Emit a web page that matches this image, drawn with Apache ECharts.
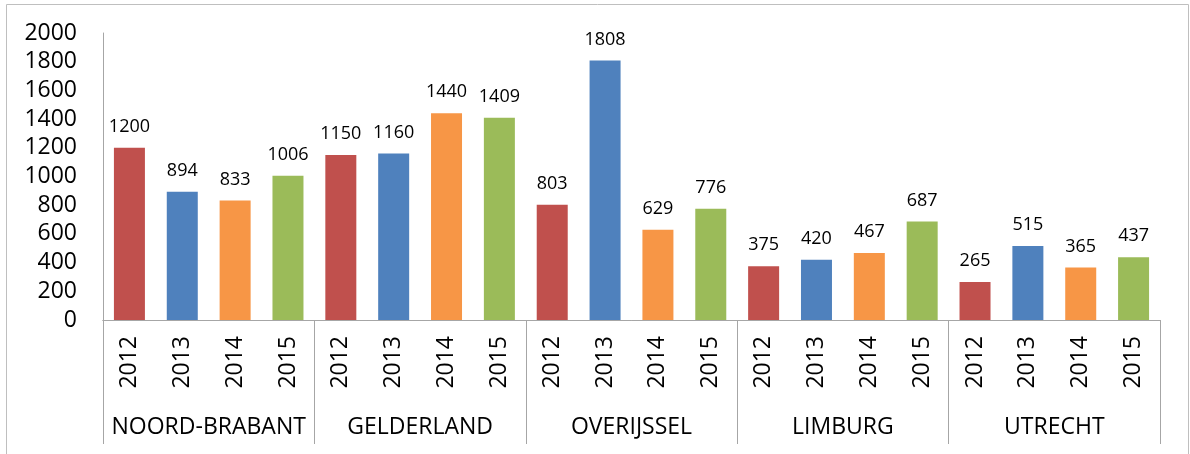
<!DOCTYPE html>
<html>
<head>
<meta charset="utf-8">
<script src="https://cdn.jsdelivr.net/npm/echarts@6/dist/echarts.min.js"></script>
<style>
  html, body { margin: 0; padding: 0; background: #fff; }
  #container { width: 1190px; height: 454px; }
</style>
</head>
<body>
<div id="container"></div>
<script>
var provinces = ['NOORD-BRABANT', 'GELDERLAND', 'OVERIJSSEL', 'LIMBURG', 'UTRECHT'];
var years = ['2012', '2013', '2014', '2015'];
// values per province, in year order
var noordBrabant = [1200, 894, 833, 1006];
var gelderland = [1150, 1160, 1440, 1409];
var overijssel = [803, 1808, 629, 776];
var limburg = [375, 420, 467, 687];
var utrecht = [265, 515, 365, 437];
var yearColors = ['#C0504D', '#4F81BD', '#F79646', '#9BBB59'];

var groups = [noordBrabant, gelderland, overijssel, limburg, utrecht];
var cats = [];
var vals = [];
for (var p = 0; p < groups.length; p++) {
  for (var y = 0; y < years.length; y++) {
    cats.push(years[y]);
    vals.push({ value: groups[p][y], itemStyle: { color: yearColors[y] } });
  }
}

var font = '"Open Sans", sans-serif';
var gray = '#A6A6A6';
var myChart = echarts.init(document.getElementById('container'));
var option = {
  animation: false,
  backgroundColor: '#fff',
  textStyle: { fontFamily: font },
  graphic: [{
    type: 'rect',
    shape: { x: 6.5, y: 4.5, width: 1182, height: 470 },
    style: { fill: 'none', stroke: '#BFBFBF', lineWidth: 1 }
  }],
  grid: { left: 103, right: 30, top: 33, bottom: 134 },
  xAxis: [{
    type: 'category',
    data: cats,
    axisLine: { lineStyle: { color: gray } },
    axisTick: { show: false },
    axisLabel: { rotate: 90, margin: 16, fontSize: 23, color: '#000', fontFamily: font, interval: 0 }
  }, {
    type: 'category',
    position: 'bottom',
    offset: 0,
    data: provinces,
    axisLine: { lineStyle: { color: gray } },
    axisTick: { show: true, length: 124, lineStyle: { color: gray } },
    axisLabel: { margin: 96, fontSize: 23, color: '#000', fontFamily: font, interval: 0 }
  }],
  yAxis: {
    type: 'value',
    min: 0,
    max: 2000,
    interval: 200,
    axisLine: { show: true, lineStyle: { color: gray } },
    axisTick: { show: false },
    splitLine: { show: false },
    axisLabel: {
      margin: 26, fontSize: 23, color: '#000', fontFamily: font,
      formatter: function (v) { return String(v); }
    }
  },
  series: [{
    type: 'bar',
    xAxisIndex: 0,
    data: vals,
    barWidth: 31,
    label: { show: true, position: 'top', distance: 12, fontSize: 18, color: '#000', fontFamily: font }
  }]
};
myChart.setOption(option);
</script>
</body>
</html>
